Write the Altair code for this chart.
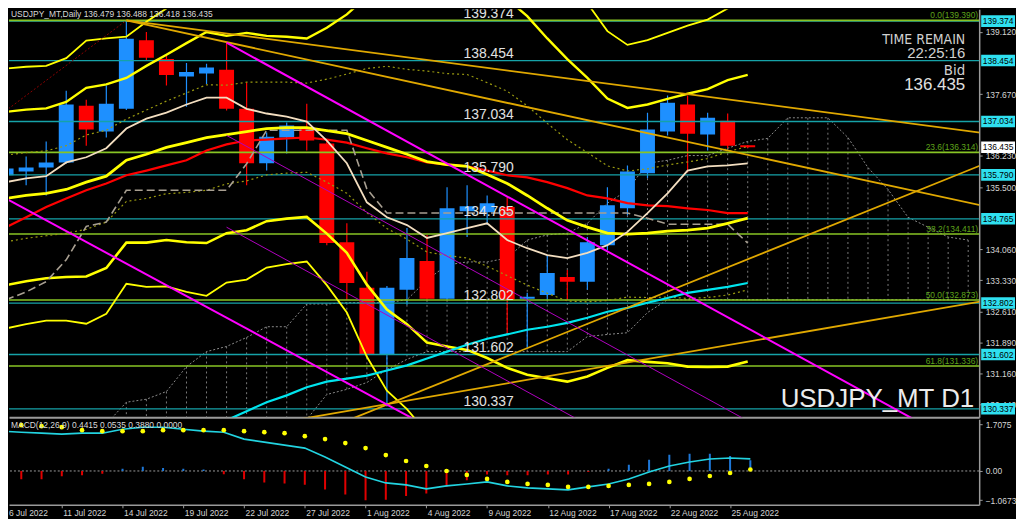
import altair as alt
import pandas as pd

# ---------------- price bars (USDJPY_MT, Daily) ----------------
dates = ["6 Jul", "7 Jul", "8 Jul", "11 Jul", "12 Jul", "13 Jul", "14 Jul", "15 Jul",
         "18 Jul", "19 Jul", "20 Jul", "21 Jul", "22 Jul", "25 Jul", "26 Jul", "27 Jul",
         "28 Jul", "29 Jul", "1 Aug", "2 Aug", "3 Aug", "4 Aug", "5 Aug", "8 Aug",
         "9 Aug", "10 Aug", "11 Aug", "12 Aug", "15 Aug", "16 Aug", "17 Aug", "18 Aug",
         "19 Aug", "22 Aug", "23 Aug", "24 Aug", "25 Aug", "26 Aug"]
opens = [135.78, 135.87, 135.96, 136.08, 137.40, 136.80, 137.33, 138.93, 138.49, 138.08,
         138.15, 138.24, 137.33, 136.06, 136.66, 136.87, 136.52, 134.22, 133.16, 131.60,
         133.11, 133.78, 132.90, 134.94, 134.92, 135.04, 132.90, 132.99, 133.41, 133.30,
         134.15, 135.01, 135.83, 136.80, 137.43, 136.73, 137.05, 136.479]
highs = [136.01, 136.22, 136.57, 137.75, 137.54, 137.87, 139.39, 139.12, 138.56, 138.40,
         138.38, 138.87, 137.94, 136.78, 137.01, 137.45, 136.59, 134.66, 133.53, 133.20,
         134.55, 134.39, 135.50, 135.55, 135.31, 135.27, 133.04, 133.92, 133.57, 134.34,
         135.50, 136.01, 137.24, 137.64, 137.64, 137.24, 137.22, 136.488]
lows = [134.97, 135.55, 135.31, 136.05, 136.47, 136.66, 137.30, 138.45, 137.87, 137.38,
        137.91, 137.29, 135.55, 135.89, 136.29, 136.36, 134.15, 132.88, 131.53, 130.39,
        132.76, 132.88, 132.88, 134.34, 134.62, 132.07, 131.76, 132.88, 132.88, 133.11,
        134.04, 134.85, 135.71, 136.71, 135.85, 136.36, 136.41, 136.418]
closes = [135.94, 135.96, 136.08, 137.43, 136.85, 137.45, 138.96, 138.52, 138.12, 138.19,
          138.29, 137.33, 136.06, 136.68, 136.94, 136.59, 134.20, 133.27, 131.60, 133.16,
          133.85, 132.90, 135.01, 135.06, 135.13, 132.88, 132.95, 133.50, 133.30, 134.22,
          135.08, 135.87, 136.85, 137.47, 136.75, 137.12, 136.47, 136.435]

# ---------------- Bollinger bands ----------------
bb_mid = [135.24, 135.31, 135.36, 135.45, 135.62, 135.76, 136.13, 136.27, 136.43, 136.54,
          136.66, 136.73, 136.80, 136.87, 136.89, 136.89, 136.82, 136.75, 136.59, 136.43,
          136.27, 136.10, 136.03, 135.99, 135.80, 135.59, 135.31, 135.01, 134.73, 134.57,
          134.43, 134.41, 134.43, 134.48, 134.50, 134.55, 134.66, 134.78]
bb_up1 = [136.25, 136.31, 136.35, 136.47, 136.72, 136.83, 137.09, 137.30, 137.51, 137.70,
          137.89, 137.88, 137.95, 137.95, 137.95, 137.93, 138.02, 138.14, 138.27, 138.32,
          138.25, 138.21, 138.15, 138.13, 137.94, 137.74, 137.40, 136.99, 136.61, 136.31,
          136.00, 135.88, 135.93, 136.02, 136.09, 136.17, 136.33, 136.45]
bb_up2 = [137.26, 137.31, 137.34, 137.49, 137.82, 137.90, 138.05, 138.33, 138.59, 138.86,
          139.12, 139.03, 139.10, 139.03, 139.01, 138.97, 139.22, 139.53, 139.95, 140.21,
          140.23, 140.32, 140.27, 140.27, 140.08, 139.89, 139.49, 138.97, 138.49, 138.05,
          137.57, 137.35, 137.43, 137.56, 137.68, 137.79, 138.00, 138.12]
bb_up3 = [138.27, 138.31, 138.33, 138.51, 138.92, 138.97, 139.01, 139.36, 139.67, 140.02,
          140.35, 140.18, 140.25, 140.11, 140.07, 140.01, 140.42, 140.92, 141.63, 142.10,
          142.21, 142.43, 142.39, 142.41, 142.22, 142.04, 141.58, 140.95, 140.37, 139.79,
          139.14, 138.82, 138.93, 139.10, 139.27, 139.41, 139.67, 139.79]
bb_lo1 = [134.23, 134.31, 134.37, 134.43, 134.52, 134.69, 135.17, 135.24, 135.35, 135.38,
          135.43, 135.58, 135.65, 135.79, 135.83, 135.85, 135.62, 135.36, 134.91, 134.54,
          134.29, 133.99, 133.91, 133.85, 133.66, 133.44, 133.22, 133.03, 132.85, 132.83,
          132.86, 132.94, 132.93, 132.94, 132.91, 132.93, 132.99, 133.11]
bb_lo2 = [133.22, 133.31, 133.38, 133.41, 133.42, 133.62, 134.21, 134.21, 134.27, 134.22,
          134.20, 134.43, 134.50, 134.71, 134.77, 134.81, 134.42, 133.97, 133.23, 132.65,
          132.31, 131.88, 131.79, 131.71, 131.52, 131.29, 131.13, 131.05, 130.97, 131.09,
          131.29, 131.47, 131.43, 131.40, 131.32, 131.31, 131.32, 131.44]
bb_lo3 = [132.21, 132.31, 132.39, 132.39, 132.32, 132.55, 133.25, 133.18, 133.19, 133.06,
          132.97, 133.28, 133.35, 133.63, 133.71, 133.77, 133.22, 132.58, 131.55, 130.76,
          130.33, 129.77, 129.67, 129.57, 129.38, 129.14, 129.04, 129.07, 129.09, 129.35,
          129.72, 130.00, 129.93, 129.86, 129.73, 129.69, 129.65, 129.77]

# ---------------- moving averages / ichimoku ----------------
ma_beige = [135.62, 135.71, 135.76, 136.08, 136.20, 136.41, 136.87, 137.10, 137.24, 137.43,
            137.59, 137.59, 137.33, 137.22, 137.15, 137.03, 136.59, 136.06, 135.15, 134.80,
            134.62, 134.32, 134.43, 134.55, 134.66, 134.27, 134.08, 133.92, 133.85, 133.97,
            134.15, 134.46, 134.90, 135.36, 135.89, 135.99, 136.01, 136.06]
ma_red = [134.57, 134.80, 135.04, 135.24, 135.43, 135.59, 135.78, 135.89, 136.01, 136.13,
          136.36, 136.50, 136.59, 136.61, 136.64, 136.66, 136.61, 136.54, 136.41, 136.29,
          136.20, 136.08, 136.03, 135.99, 135.89, 135.78, 135.73, 135.62, 135.48, 135.31,
          135.24, 135.13, 135.08, 135.06, 135.01, 134.97, 134.90, 134.90]
ma_cyan_start = 10
ma_cyan = [129.86, 130.07, 130.28, 130.49, 130.65, 130.84, 130.97, 131.04, 131.11, 131.23,
           131.35, 131.51, 131.67, 131.83, 131.97, 132.07, 132.18, 132.25, 132.34, 132.46,
           132.60, 132.69, 132.81, 132.92, 133.04, 133.11, 133.18, 133.27]
kijun = [132.88, 133.06, 133.30, 133.81, 134.59, 134.69, 135.43, 135.43, 135.43, 135.43,
         135.43, 135.43, 136.05, 136.83, 136.83, 136.83, 136.83, 136.83, 135.46, 134.90,
         134.90, 134.90, 134.90, 134.90, 134.90, 134.90, 134.90, 134.90, 134.90, 134.90,
         134.90, 134.90, 134.78, 134.64, 134.64, 134.64, 134.64, 134.20]
cloud_start = 5
span_a = [129.98, 130.49, 130.56, 130.74, 131.32, 131.67, 131.79, 132.00, 132.25, 132.25,
          132.78, 132.78, 132.81, 132.81, 132.81, 132.88, 133.34, 133.69, 133.76, 133.76,
          133.85, 134.27, 134.39, 134.43, 134.66, 135.13, 135.43, 136.06, 136.13, 136.24,
          136.24, 136.41, 136.57, 136.64, 137.12, 137.12, 137.12, 136.66, 135.96, 135.45,
          134.80, 134.57, 134.34, 134.27]
span_b = [129.63, 129.63, 129.63, 129.63, 129.63, 129.63, 129.63, 129.63, 129.63, 129.63,
          130.09, 130.67, 130.79, 130.95, 131.25, 131.49, 131.67, 131.67, 131.67, 131.67,
          131.67, 131.67, 131.67, 131.67, 132.02, 132.07, 132.11, 132.58, 132.88, 132.88,
          132.88, 132.88, 132.88, 132.88, 132.88, 132.88, 132.88, 132.88, 132.88, 132.88,
          132.88, 132.88, 132.88, 132.88]

# ---------------- MACD(12,26,9) ----------------
macd_main = [1.455, 1.418, 1.382, 1.345, 1.382, 1.382, 1.527, 1.600, 1.600, 1.527,
             1.455, 1.418, 1.164, 1.055, 0.945, 0.836, 0.509, 0.145, -0.218, -0.436,
             -0.509, -0.655, -0.545, -0.473, -0.400, -0.545, -0.618, -0.655, -0.691, -0.582,
             -0.473, -0.291, -0.036, 0.182, 0.327, 0.436, 0.473, 0.4415]
macd_signal = [1.745, 1.673, 1.636, 1.600, 1.491, 1.455, 1.455, 1.455, 1.491, 1.491,
               1.491, 1.491, 1.455, 1.418, 1.382, 1.273, 1.164, 1.018, 0.836, 0.582,
               0.364, 0.182, 0.000, -0.145, -0.291, -0.400, -0.473, -0.509, -0.582, -0.582,
               -0.545, -0.509, -0.473, -0.400, -0.291, -0.182, -0.073, 0.0535]
macd_hist = [-0.30, -0.30, -0.30, -0.19, -0.16, -0.10, 0.08, 0.15, 0.11, 0.08,
             0.05, -0.12, -0.30, -0.42, -0.46, -0.50, -0.68, -0.86, -1.07, -1.05,
             -0.91, -0.82, -0.58, -0.34, -0.13, -0.16, -0.16, -0.13, -0.13, -0.04,
             0.08, 0.23, 0.41, 0.59, 0.63, 0.63, 0.55, 0.388]

# ---------------- drawn objects ----------------
teal_levels = [139.374, 138.454, 137.034, 135.790, 134.765, 132.802, 131.602, 130.337]
fib_levels = [139.390, 136.314, 134.411, 132.873, 131.336]
fib_labels = ["0.0(139.390)", "23.6(136.314)", "38.2(134.411)", "50.0(132.873)", "61.8(131.336)"]
bid_price = 136.435
price_ticks = [139.120, 137.670, 136.230, 135.500, 134.060, 133.330, 132.610,
               131.890, 131.160, 130.440]
macd_ticks = [1.7075, 0.0, -1.0673]
date_tick_idx = [0, 3, 6, 9, 12, 15, 18, 21, 24, 27, 30, 33, 36]
date_tick_labels = ["6 Jul 2022", "11 Jul 2022", "14 Jul 2022", "19 Jul 2022", "22 Jul 2022",
                    "27 Jul 2022", "1 Aug 2022", "4 Aug 2022", "9 Aug 2022", "12 Aug 2022",
                    "17 Aug 2022", "22 Aug 2022", "25 Aug 2022"]
# trend lines: (bar index, price) pairs
gold_lines = {"a": [(6, 139.39), (50, 136.69)], "b": [(6, 139.39), (50, 134.94)],
              "c": [(15, 129.68), (50, 136.27)], "d": [(12, 129.88), (50, 132.95)]}
magenta_lines = {"e1": [(-1, 135.49), (21, 129.93)], "e2": [(11, 138.87), (46, 129.91)]}
purple_lines = {"f1": [(11, 136.71), (38, 129.80)], "f2": [(11, 134.57), (30, 129.71)]}
fib_guide = {"g": [(-1, 136.94), (6, 139.39)]}

# ---------------- layout ----------------
W = 975
H_MAIN = 410
H_MACD = 86
X_DOMAIN = [0.393, 48.3]
Y_DOMAIN = [130.14, 139.65]
M_DOMAIN = [-1.236, 1.891]

FONT = "Liberation Sans, Arial, sans-serif"
NARROW = "Liberation Sans Narrow, Arial Narrow, DejaVu Sans Condensed, sans-serif"
SMALL = 8.5
AXC = "#d4d4d4"
GRAYLINE = "#9a9a9a"

n = len(dates)
idx = list(range(n))
candles = pd.DataFrame({"i": idx, "date": dates, "open": opens, "high": highs,
                        "low": lows, "close": closes})
candles["dir"] = ["up" if c >= o else "down" for o, c in zip(opens, closes)]
bb = pd.DataFrame({"i": idx, "mid": bb_mid, "up1": bb_up1, "up2": bb_up2, "up3": bb_up3,
                   "lo1": bb_lo1, "lo2": bb_lo2, "lo3": bb_lo3,
                   "beige": ma_beige, "red": ma_red, "kijun": kijun})
cyan_df = pd.DataFrame({"i": list(range(ma_cyan_start, ma_cyan_start + len(ma_cyan))),
                        "v": ma_cyan})
cloud = pd.DataFrame({"i": list(range(cloud_start, cloud_start + len(span_a))),
                      "a": span_a, "b": span_b})
macd = pd.DataFrame({"i": idx, "main": macd_main, "signal": macd_signal, "hist": macd_hist})


def seg_df(d):
    rows = []
    for k, pts in d.items():
        for (i, p) in pts:
            rows.append({"name": k, "i": i, "p": p})
    return pd.DataFrame(rows)


xs = alt.Scale(domain=X_DOMAIN, nice=False, zero=False)
ys = alt.Scale(domain=Y_DOMAIN, nice=False, zero=False)
X_AX = alt.Axis(labels=False, ticks=False, domain=True, domainColor=GRAYLINE,
                domainWidth=2, grid=False, title=None)
Y_AX = alt.Axis(orient="right", values=price_ticks, format=".3f", grid=False, title=None,
                labelColor=AXC, labelFont=FONT, labelFontSize=SMALL, labelPadding=3,
                tickSize=3, tickColor=GRAYLINE, domainColor=GRAYLINE, domainWidth=1.5,
                labelFlush=False, labelOverlap=False)


def X(field="i"):
    return alt.X(f"{field}:Q", scale=xs, axis=X_AX)


def Y(field):
    return alt.Y(f"{field}:Q", scale=ys, axis=Y_AX)


def line(df, field, color, width, dash=None):
    kw = dict(color=color, strokeWidth=width, clip=True)
    if dash:
        kw["strokeDash"] = dash
    return alt.Chart(df).mark_line(**kw).encode(x=X(), y=Y(field))


def segs(d, color, width, dash=None):
    kw = dict(color=color, strokeWidth=width, clip=True)
    if dash:
        kw["strokeDash"] = dash
    return alt.Chart(seg_df(d)).mark_line(**kw).encode(x=X(), y=Y("p"), detail="name:N")


layers = []
# ichimoku cloud hatching and outline
layers.append(alt.Chart(cloud).mark_rule(color="#7a7a7a", strokeWidth=1, strokeDash=[2, 3],
                                         clip=True).encode(x=X(), y=Y("a"), y2="b:Q"))
layers.append(line(cloud, "a", "#8a8a8a", 1, [2, 2]))
layers.append(line(cloud, "b", "#8a8a8a", 1, [2, 2]))

# candles
cscale = alt.Scale(domain=["up", "down"], range=["#1E90FF", "#FF0000"])
layers.append(alt.Chart(candles).mark_rule(strokeWidth=1.2, clip=True).encode(
    x=X(), y=Y("low"), y2="high:Q", color=alt.Color("dir:N", scale=cscale, legend=None)))
layers.append(alt.Chart(candles).mark_bar(size=15, clip=True).encode(
    x=X(), y=Y("open"), y2="close:Q", color=alt.Color("dir:N", scale=cscale, legend=None)))

# horizontal levels
teal_df = pd.DataFrame({"p": teal_levels, "t": [f"{v:.3f}" for v in teal_levels]})
fib_df = pd.DataFrame({"p": fib_levels, "t": fib_labels})
layers.append(alt.Chart(teal_df).mark_rule(color="#16a2a8", strokeWidth=1.3).encode(y=Y("p")))
layers.append(alt.Chart(fib_df).mark_rule(color="#88c425", strokeWidth=1.6).encode(y=Y("p")))

# Bollinger bands
layers.append(line(bb, "up1", "#9a9a10", 1.2, [2, 3]))
layers.append(line(bb, "lo1", "#9a9a10", 1.2, [2, 3]))
layers.append(line(bb, "up3", "#FFFF00", 1.8))
layers.append(line(bb, "lo3", "#FFFF00", 1.8))
layers.append(line(bb, "up2", "#FFFF00", 2.4))
layers.append(line(bb, "lo2", "#FFFF00", 2.6))
# moving averages
layers.append(line(cyan_df, "v", "#00E5EE", 2.2))
layers.append(line(bb, "red", "#FF0000", 2.2))
layers.append(line(bb, "kijun", "#a89f91", 1.6, [8, 4]))
layers.append(line(bb, "mid", "#FFFF00", 2.8))
layers.append(line(bb, "beige", "#F3DEC0", 1.8))

# trend lines
layers.append(segs(gold_lines, "#E0A800", 1.8))
layers.append(segs(purple_lines, "#B000C0", 1.0))
layers.append(segs(magenta_lines, "#FF00FF", 2.0))
layers.append(segs(fib_guide, "#8B0000", 1.0, [2, 2]))

# texts on the levels
layers.append(alt.Chart(teal_df).mark_text(font=FONT, fontSize=14, color="#e2e2e2",
                                           align="center", baseline="alphabetic", dy=-3,
                                           clip=True).encode(
    x=alt.value(482), y=Y("p"), text="t:N"))
layers.append(alt.Chart(fib_df).mark_text(font=FONT, fontSize=SMALL, color="#5ea31a",
                                          align="right", baseline="alphabetic", dy=-2,
                                          clip=True).encode(
    x=alt.value(W - 1), y=Y("p"), text="t:N"))

# right-axis price boxes (level boxes in cyan, bid box in white)
lvl_box = pd.DataFrame({"p": teal_levels, "t": [f"{v:.3f}" for v in teal_levels]})
bid_box = pd.DataFrame({"p": [bid_price], "t": [f"{bid_price:.3f}"]})
for bdf, fill in [(lvl_box, "#2fe0f0"), (bid_box, "#ffffff")]:
    layers.append(alt.Chart(bdf).transform_calculate(
        lo="datum.p - 0.135", hi="datum.p + 0.135").mark_rect(color=fill).encode(
        x=alt.value(W + 2), x2=alt.value(W + 36), y=Y("lo"), y2="hi:Q"))
    layers.append(alt.Chart(bdf).mark_text(font=FONT, fontSize=SMALL, color="#000000",
                                           align="center", baseline="middle").encode(
        x=alt.value(W + 19), y=Y("p"), text="t:N"))

# header and info texts
info = pd.DataFrame({
    "t": ["USDJPY_MT,Daily  136.479 136.488 136.418 136.435", "TIME REMAIN", "22:25:16",
          "Bid", "136.435", "USDJPY_MT D1"]})
layers.append(alt.Chart(info.iloc[[0]]).mark_text(font=FONT, fontSize=SMALL, color="#d8d8d8",
                                                  align="left", baseline="top").encode(
    x=alt.value(2), y=alt.value(1), text="t:N"))
layers.append(alt.Chart(info.iloc[[1]]).mark_text(font=NARROW, fontSize=14, color="#d0d0d0",
                                                  align="right", baseline="alphabetic").encode(
    x=alt.value(961), y=alt.value(35), text="t:N"))
layers.append(alt.Chart(info.iloc[[2]]).mark_text(font=FONT, fontSize=15, color="#d0d0d0",
                                                  align="right", baseline="alphabetic").encode(
    x=alt.value(961), y=alt.value(49), text="t:N"))
layers.append(alt.Chart(info.iloc[[3]]).mark_text(font=NARROW, fontSize=15, color="#d0d0d0",
                                                  align="right", baseline="alphabetic").encode(
    x=alt.value(961), y=alt.value(66), text="t:N"))
layers.append(alt.Chart(info.iloc[[4]]).mark_text(font=FONT, fontSize=17, color="#e0e0e0",
                                                  align="right", baseline="alphabetic").encode(
    x=alt.value(961), y=alt.value(81), text="t:N"))
layers.append(alt.Chart(info.iloc[[5]]).mark_text(font=FONT, fontSize=26, color="#ececec",
                                                  align="right", baseline="alphabetic",
                                                  clip=True).encode(
    x=alt.value(970), y=alt.value(400), text="t:N"))

main = alt.layer(*layers).properties(width=W, height=H_MAIN)

# ---------------- MACD panel ----------------
label_expr = "[" + ",".join(f"'{s}'" for s in date_tick_labels) + "][round(datum.value/3)]"
MX_AX = alt.Axis(values=date_tick_idx, labelExpr=label_expr, labelAlign="left",
                 labelBaseline="top", labelColor=AXC, labelFont=FONT, labelFontSize=SMALL,
                 labelPadding=1, labelOffset=1, tickSize=3, tickColor=GRAYLINE,
                 domainColor=GRAYLINE, domainWidth=1.5, grid=False, title=None,
                 labelFlush=False, labelOverlap=False)
MY_AX = alt.Axis(orient="right", values=macd_ticks,
                 labelExpr="datum.value == 0 ? '0.00' : format(datum.value, '.4f')",
                 labelColor=AXC, labelFont=FONT, labelFontSize=SMALL, labelPadding=3,
                 tickSize=3, tickColor=GRAYLINE, domainColor=GRAYLINE, domainWidth=1.5,
                 grid=False, title=None, labelFlush=False, labelOverlap=False)
mxs = alt.Scale(domain=X_DOMAIN, nice=False, zero=False)
mys = alt.Scale(domain=M_DOMAIN, nice=False, zero=False)


def MX():
    return alt.X("i:Q", scale=mxs, axis=MX_AX)


def MY(field):
    return alt.Y(f"{field}:Q", scale=mys, axis=MY_AX)


mlayers = []
mlayers.append(alt.Chart(pd.DataFrame({"z": [0.0]})).mark_rule(
    color="#9a9a9a", strokeWidth=1, strokeDash=[2, 2]).encode(y=MY("z")))
mlayers.append(alt.Chart(macd).mark_rule(strokeWidth=2, clip=True).encode(
    x=MX(), y=MY("hist"), y2=alt.datum(0),
    color=alt.condition(alt.datum.hist > 0, alt.value("#1E78D8"), alt.value("#E00000"))))
mlayers.append(alt.Chart(macd).mark_line(color="#22D3E0", strokeWidth=1.6, clip=True).encode(
    x=MX(), y=MY("main")))
mlayers.append(alt.Chart(macd).mark_circle(color="#FFFF00", size=22, opacity=1, clip=True).encode(
    x=MX(), y=MY("signal")))
mlayers.append(alt.Chart(pd.DataFrame({"t": ["MACD(12,26,9) 0.4415 0.0535 0.3880 0.0000"]}))
               .mark_text(font=FONT, fontSize=SMALL, color="#d8d8d8", align="left",
                          baseline="top").encode(x=alt.value(2), y=alt.value(2), text="t:N"))
mlayers.append(alt.Chart(pd.DataFrame({"t": [date_tick_labels[0]]}))
               .mark_text(font=FONT, fontSize=SMALL, color=AXC, align="left",
                          baseline="top").encode(x=alt.value(0), y=alt.value(H_MACD + 4),
                                                 text="t:N"))

macd_panel = alt.layer(*mlayers).properties(width=W, height=H_MACD)

chart = alt.vconcat(main, macd_panel, spacing=2).properties(
    background="#000000", padding=0).configure_view(strokeWidth=0)

chart.save("out.html", embed_options={"renderer": "svg", "actions": False})
